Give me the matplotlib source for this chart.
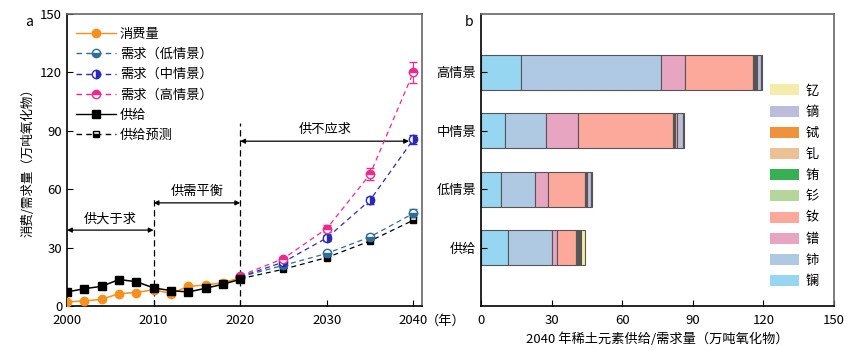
import matplotlib
matplotlib.use('Agg')
import matplotlib.pyplot as plt
from matplotlib.lines import Line2D
from matplotlib.patches import Patch
import numpy as np

plt.rcParams['font.family'] = ['Noto Sans CJK SC', 'DejaVu Sans']
plt.rcParams['font.size'] = 9

# ---- panel a data (万吨氧化物)
hist_years = [2000, 2002, 2004, 2006, 2008, 2010, 2012, 2014, 2016, 2018, 2020]
consumption = [2.1, 2.6, 3.4, 6.4, 6.9, 8.4, 6.4, 10.1, 10.8, 12.0, 14.4]
supply = [7.2, 8.9, 10.1, 13.6, 12.5, 9.3, 7.9, 7.2, 9.1, 11.2, 13.7]

proj_years = [2020, 2025, 2030, 2035, 2040]
demand_low = [15.0, 20.9, 27.0, 35.5, 47.6]
demand_low_err = [0, 0.8, 1.2, 1.5, 2.0]
demand_mid = [15.0, 22.6, 35.0, 54.4, 85.6]
demand_mid_err = [0, 0.8, 1.5, 1.8, 2.5]
demand_high = [15.5, 24.4, 39.8, 67.7, 120.1]
demand_high_err = [0, 1.0, 2.0, 3.0, 5.5]
supply_forecast = [14.0, 18.9, 24.9, 33.4, 44.1]

# ---- panel b data: 2040 supply / demand by element
scenarios = ['供给', '低情景', '中情景', '高情景']
elements = ['镧', '铈', '镨', '钕', '钐', '铕', '钆', '铽', '镝', '钇']
elem_colors = ['#96d6f1', '#afc9e3', '#e8a5c2', '#fca99c', '#b5d59d',
               '#37b054', '#ecc196', '#f0923c', '#bcbcdc', '#f5ebab']
amounts = {
    '镧': [11.3, 8.5, 10.2, 16.8],
    '铈': [18.7, 14.5, 17.5, 59.6],
    '镨': [2.5, 5.4, 13.7, 10.5],
    '钕': [7.8, 16.0, 40.4, 28.8],
    '钐': [0.4, 0.2, 0.4, 0.4],
    '铕': [0.4, 0.1, 0.3, 0.3],
    '钆': [0.5, 0.2, 0.6, 0.4],
    '铽': [0.5, 0.2, 0.3, 0.4],
    '镝': [0.4, 1.6, 2.5, 1.6],
    '钇': [1.7, 0.4, 0.2, 0.8],
}

fig = plt.figure(figsize=(8.58, 3.5), dpi=100)
ax = fig.add_axes([0.0781, 0.1257, 0.4138, 0.834])
axb = fig.add_axes([0.5606, 0.1257, 0.4114, 0.834])

c_orange = '#f7901e'
c_low = '#2f6d9a'
c_mid = '#2a2ab8'
c_high = '#f02a8c'

# (color, marker, linestyle, fillstyle, markersize, label)
styles = [
    (c_orange, 'o', '-', 'full', 6, '消费量'),
    (c_low, 'o', '--', 'bottom', 6, '需求（低情景）'),
    (c_mid, 'o', '--', 'right', 6, '需求（中情景）'),
    (c_high, 'o', '--', 'top', 6, '需求（高情景）'),
    ('black', 's', '-', 'full', 6, '供给'),
    ('black', 's', '--', 'bottom', 5, '供给预测'),
]

ax.plot(hist_years, consumption, '-o', color=c_orange, ms=6, lw=1.1, zorder=3)
for vals, err, col, fs in [(demand_low, demand_low_err, c_low, 'bottom'),
                           (demand_mid, demand_mid_err, c_mid, 'right'),
                           (demand_high, demand_high_err, c_high, 'top')]:
    ax.errorbar(proj_years, vals, yerr=err, fmt='--o', color=col, ms=6,
                lw=0.9, fillstyle=fs, markerfacecoloralt='white', capsize=3,
                elinewidth=0.8, dashes=(4, 3), zorder=3)
ax.plot(hist_years, supply, '-s', color='black', ms=6, lw=1.1, zorder=4)
ax.plot(proj_years, supply_forecast, '--s', color='black', ms=5, lw=0.9, dashes=(4, 3),
        fillstyle='bottom', markerfacecoloralt='white', zorder=3)

ax.set_xlim(2000, 2041)
ax.set_ylim(0, 150)
ax.set_xticks([2000, 2010, 2020, 2030, 2040])
ax.set_yticks([0, 30, 60, 90, 120, 150])
ax.tick_params(direction='in', length=4, labelsize=9.5)
ax.tick_params(axis='x', pad=6)
ax.set_ylabel('消费/需求量（万吨氧化物）', fontsize=9)
for s in ['left', 'bottom']:
    ax.spines[s].set_linewidth(1.2)
for s in ['top', 'right']:
    ax.spines[s].set_color('#666666')
    ax.spines[s].set_linewidth(1.2)

# period markers
ax.plot([2010, 2010], [0, 56], color='black', lw=0.9, dashes=(5, 3))
ax.plot([2020, 2020], [0, 94], color='black', lw=0.9, dashes=(5, 3))
arrow = dict(arrowstyle='<|-|>', color='black', lw=0.9, mutation_scale=7, shrinkA=0, shrinkB=0)
ax.annotate('', xy=(2000, 39), xytext=(2010, 39), arrowprops=arrow)
ax.text(2005, 41.5, '供大于求', ha='center', va='bottom', fontsize=9.5)
ax.annotate('', xy=(2010, 53), xytext=(2020, 53), arrowprops=arrow)
ax.text(2015, 55.5, '供需平衡', ha='center', va='bottom', fontsize=9.5)
ax.annotate('', xy=(2020, 84.7), xytext=(2039.5, 84.7), arrowprops=arrow)
ax.text(2029.8, 87.5, '供不应求', ha='center', va='bottom', fontsize=9.5)

handles = [Line2D([], [], color=c, marker=m, linestyle=ls, fillstyle=fs, ms=ms,
                  markerfacecoloralt='white', lw=1.0, dashes=(4, 3) if ls == '--' else (None, None))
           for c, m, ls, fs, ms, _ in styles]
ax.legend(handles, [s[-1] for s in styles], loc='upper left', frameon=False, fontsize=9.5,
          handlelength=3.0, handletextpad=0.3, labelspacing=0.55, borderaxespad=0.3,
          bbox_to_anchor=(0.0, 0.985))

fig.text(0.029, 0.925, 'a', fontsize=10)
fig.text(0.542, 0.925, 'b', fontsize=10)
fig.text(0.519, 0.081, '（年）', fontsize=9.5, ha='center', va='center')

# ---- panel b
ypos = np.arange(len(scenarios))
left = np.zeros(len(scenarios))
for el, col in zip(elements, elem_colors):
    vals = np.array(amounts[el])
    axb.barh(ypos, vals, left=left, height=0.6, color=col, edgecolor='#555555',
             linewidth=0.8)
    left += vals

axb.set_xlim(0, 150)
axb.set_ylim(-1, 4)
axb.set_xticks([0, 30, 60, 90, 120, 150])
axb.set_yticks(ypos)
axb.set_yticklabels(scenarios)
axb.tick_params(direction='in', length=4, labelsize=9.5)
axb.tick_params(axis='x', pad=6)
axb.set_xlabel('2040 年稀土元素供给/需求量（万吨氧化物）', fontsize=9.5, labelpad=4)
for s in ['left', 'bottom']:
    axb.spines[s].set_linewidth(1.2)
for s in ['top', 'right']:
    axb.spines[s].set_color('#666666')
    axb.spines[s].set_linewidth(1.2)

patches = [Patch(facecolor=c, edgecolor='none') for c in elem_colors][::-1]
axb.legend(patches, elements[::-1], loc='lower right', frameon=False, fontsize=9.5,
           handlelength=2.2, handleheight=0.9, handletextpad=0.5, labelspacing=0.62,
           bbox_to_anchor=(0.99, 0.02))

fig.savefig('out.png', dpi=100)
